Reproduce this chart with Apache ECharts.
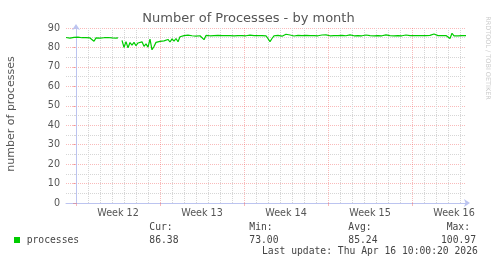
<!DOCTYPE html>
<html><head><meta charset="utf-8">
<script src="https://cdn.jsdelivr.net/npm/echarts@6/dist/echarts.min.js"></script>
<style>html,body{margin:0;padding:0;background:#fff}#c{width:497px;height:264px}</style>
</head><body><div id="c"></div>
<script>
// time axis in hours, 0 = start of Week 12
const startHour = -20;
const stepHours = 4;
const endHour = 780;
const weekLabels = ['Week 12', 'Week 13', 'Week 14', 'Week 15', 'Week 16'];
const weekStarts = [0, 168, 336, 504, 672];
const weekMiddles = [84, 252, 420, 588, 756];
const yTicks = [0, 10, 20, 30, 40, 50, 60, 70, 80, 90];

const processes = [
  85.1, 85.0, 84.8, 85.0, 85.2, 84.8, 85.3, 84.9, 85.0, 84.7,
  85.0, 85.1, 84.9, 84.6, 83.2, 84.9, 85.0, 84.8, 84.9, 85.0,
  84.9, 85.1, 85.3, 84.9, 85.0, 84.8, 84.9, null, 83.6, 80.0,
  83.0, 79.8, 82.5, 81.2, 82.6, 80.9, 82.3, 81.5, 82.9, 80.6,
  81.8, 80.2, 84.3, 78.8, 80.5, 82.6, 81.9, 83.1, 82.2, 83.4,
  82.5, 84.1, 82.8, 84.4, 83.2, 84.6, 82.9, 85.5, 85.8, 86.1,
  85.7, 86.3, 85.9, 86.0, 86.4, 85.8, 86.1, 86.0, 85.9, 84.0,
  86.2, 86.6, 86.0, 86.0, 86.1, 86.1, 86.2, 86.1, 86.1, 86.0,
  86.1, 86.2, 86.1, 86.1, 86.0, 86.1, 86.1, 86.2, 86.1, 86.1,
  86.0, 86.1, 86.3, 86.1, 86.1, 86.0, 86.1, 86.2, 86.1, 86.1,
  86.0, 85.6, 83.0, 84.6, 86.0, 85.7, 86.2, 86.5, 85.8, 86.3,
  86.8, 86.0, 86.4, 86.1, 85.9, 86.4, 86.2, 86.0, 86.1, 86.6,
  86.2, 86.1, 86.1, 86.0, 86.1, 86.1, 86.0, 86.1, 86.4, 86.1,
  86.5, 86.1, 86.0, 86.1, 86.1, 86.0, 86.1, 86.1, 86.2, 86.1,
  86.0, 86.1, 86.5, 86.2, 86.0, 86.1, 86.1, 86.1, 86.0, 86.1,
  86.4, 86.2, 86.1, 86.1, 86.0, 86.1, 86.1, 86.1, 86.0, 86.1,
  86.5, 86.3, 86.1, 86.1, 86.0, 86.1, 86.1, 86.1, 86.0, 86.1,
  86.4, 86.5, 86.1, 86.0, 86.1, 86.1, 86.1, 86.0, 86.1, 86.1,
  86.1, 86.0, 86.2, 86.6, 86.9, 86.4, 86.1, 86.3, 86.1, 86.9,
  86.1, 87.0, 84.6, 87.3, 85.9, 86.3, 86.0, 86.5, 86.1, 86.4,
  86.1
];

const statLabels = ['Cur:', 'Min:', 'Avg:', 'Max:'];
const statValues = ['86.38', '73.00', '85.24', '100.97'];
const seriesName = 'processes';
const lastUpdate = 'Last update: Thu Apr 16 10:00:20 2026';

const dayLines = [];
for (let h = 0; h <= endHour; h += 24) if (h % 168 !== 0) dayLines.push(h);

const data = processes.map((v, i) => [startHour + i * stepHours, v === null ? '-' : v]);

const SANS = 'DejaVu Sans';
const MONO = 'DejaVu Sans Mono';
const AXIS = '#bcc4f0';
const MAJOR = 'rgba(240,90,90,0.42)';
const MINOR = '#d6d6d6';

const chart = echarts.init(document.getElementById('c'), null, {renderer: 'canvas'});
const statX = [149.3, 249.3, 348.3, 446.7];
const statValX = [149.3, 249.3, 348.3, 441];
const graphics = [
  {type: 'text', x: 248.5, y: 19, style: {text: 'Number of Processes - by month', font: '13px ' + SANS, fill: '#555', textAlign: 'center', textVerticalAlign: 'middle'}},
  {type: 'text', x: 11, y: 114, rotation: Math.PI / 2, style: {text: 'number of processes', font: '11px ' + SANS, fill: '#555', textAlign: 'center', textVerticalAlign: 'middle'}},
  {type: 'text', x: 488, y: 58, rotation: -Math.PI / 2, style: {text: 'RRDTOOL / TOBI OETIKER', font: '6.5px ' + SANS, fill: '#cccccc', textAlign: 'center', textVerticalAlign: 'middle'}},
  {type: 'rect', shape: {x: 14, y: 237, width: 6, height: 6}, style: {fill: '#00cc00'}},
  {type: 'text', x: 26.7, y: 240, style: {text: seriesName, font: '9.7px ' + MONO, fill: '#444', textVerticalAlign: 'middle'}},
  {type: 'text', x: 262, y: 251.8, style: {text: lastUpdate, font: '9.7px ' + MONO, fill: '#444', textVerticalAlign: 'middle'}}
];
statLabels.forEach((t, k) => {
  graphics.push({type: 'text', x: statX[k], y: 227.8, style: {text: t, font: '9.7px ' + MONO, fill: '#444', textVerticalAlign: 'middle'}});
  graphics.push({type: 'text', x: statValX[k], y: 240, style: {text: statValues[k], font: '9.7px ' + MONO, fill: '#444', textVerticalAlign: 'middle'}});
});

chart.setOption({
  animation: false,
  backgroundColor: '#fff',
  grid: {left: 66, top: 28, width: 400, height: 175, containLabel: false},
  xAxis: [
    {
      type: 'value', min: startHour, max: endHour, position: 'bottom',
      axisLine: {show: true, lineStyle: {color: AXIS, width: 1}, symbol: ['none', 'arrow'], symbolSize: [6, 6], symbolOffset: [0, 4]},
      axisTick: {show: true, customValues: weekStarts, length: 3, lineStyle: {color: MAJOR}},
      axisLabel: {customValues: weekMiddles, formatter: (v) => weekLabels[weekMiddles.indexOf(v)], color: '#555', fontFamily: SANS, fontSize: 9.6, margin: 5},
      splitLine: {show: true, lineStyle: {color: MAJOR, type: [1, 1], width: 1}}
    },
    {
      type: 'value', min: startHour, max: endHour, position: 'top',
      axisLine: {show: false}, axisLabel: {show: false},
      axisTick: {show: false, customValues: dayLines},
      splitLine: {show: true, lineStyle: {color: MINOR, type: [1, 1], width: 1}}
    }
  ],
  yAxis: {
    type: 'value', min: 0, max: 90, interval: 10,
    axisLine: {show: true, lineStyle: {color: AXIS, width: 1}, symbol: ['none', 'arrow'], symbolSize: [6, 6], symbolOffset: [0, 4]},
    axisTick: {show: true, length: 3, lineStyle: {color: MAJOR}},
    minorTick: {show: true, splitNumber: 2, length: 2, lineStyle: {color: MINOR}},
    axisLabel: {color: '#555', fontFamily: SANS, fontSize: 9.6, margin: 6, formatter: (v) => yTicks.includes(v) ? String(v) : ''},
    splitLine: {show: true, lineStyle: {color: MAJOR, type: [1, 1], width: 1}},
    minorSplitLine: {show: true, lineStyle: {color: MINOR, type: [1, 1], width: 1}}
  },
  series: [{
    name: seriesName, type: 'line', xAxisIndex: 0, data: data,
    showSymbol: false, connectNulls: false,
    lineStyle: {color: '#00cc00', width: 1.2}, itemStyle: {color: '#00cc00'}, z: 5
  }],
  graphic: graphics
});
</script>
</body></html>
